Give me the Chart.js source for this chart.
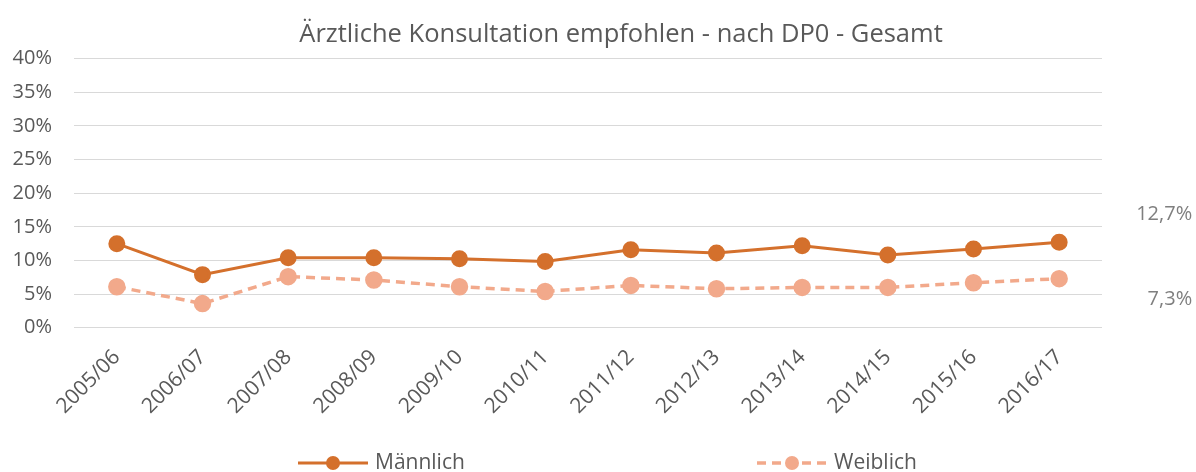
<!DOCTYPE html>
<html>
<head>
<meta charset="utf-8">
<script src="https://cdn.jsdelivr.net/npm/chart.js@4/dist/chart.umd.min.js"></script>
<style>
  html, body { margin: 0; padding: 0; background: #fff; }
  #wrap { width: 1196px; height: 472px; }
</style>
</head>
<body>
<div id="wrap"><canvas id="chart" width="1196" height="472"></canvas></div>
<script>
const labels = ['2005/06', '2006/07', '2007/08', '2008/09', '2009/10', '2010/11',
                '2011/12', '2012/13', '2013/14', '2014/15', '2015/16', '2016/17'];
const maennlich = [12.5, 7.9, 10.4, 10.4, 10.25, 9.85, 11.6, 11.1, 12.2, 10.8, 11.7, 12.7];
const weiblich = [6.1, 3.6, 7.6, 7.1, 6.1, 5.4, 6.3, 5.8, 6.0, 6.0, 6.7, 7.3];
const yTicks = [0, 5, 10, 15, 20, 25, 30, 35, 40];

const darkOrange = '#D4702C';
const lightOrange = '#F2A98B';
const textGrey = '#595959';
const fontFamily = "'Open Sans', sans-serif";

// label the last value of each series
const lastValueLabels = {
  id: 'lastValueLabels',
  afterDatasetsDraw(chart) {
    const ctx = chart.ctx;
    ctx.save();
    ctx.font = '20px ' + fontFamily;
    ctx.fillStyle = '#7F7F7F';
    ctx.textAlign = 'right';
    ctx.textBaseline = 'middle';
    const offsets = [-28, 21];
    chart.data.datasets.forEach((ds, i) => {
      const pts = chart.getDatasetMeta(i).data;
      const p = pts[pts.length - 1];
      const v = ds.data[ds.data.length - 1];
      ctx.fillText(v.toFixed(1).replace('.', ',') + '%', p.x + 133, p.y + offsets[i]);
    });
    ctx.restore();
  }
};

// the original title sits a little right of the canvas centre
const shiftTitle = {
  id: 'shiftTitle',
  afterLayout(chart) {
    if (chart.titleBlock) chart.titleBlock.left += 46;
  }
};

// legend spread across the bottom like the original
const bottomLegend = {
  id: 'bottomLegend',
  afterDraw(chart) {
    const ctx = chart.ctx;
    const y = 463;
    const starts = [298, 757];
    ctx.save();
    ctx.font = '21px ' + fontFamily;
    ctx.textBaseline = 'middle';
    chart.data.datasets.forEach((ds, i) => {
      const x = starts[i];
      ctx.strokeStyle = ds.borderColor;
      ctx.lineWidth = ds.borderWidth;
      ctx.setLineDash(ds.borderDash || []);
      ctx.beginPath();
      ctx.moveTo(x, y);
      ctx.lineTo(x + 70, y);
      ctx.stroke();
      ctx.setLineDash([]);
      ctx.fillStyle = ds.pointBackgroundColor;
      ctx.beginPath();
      ctx.arc(x + 35, y, 7, 0, Math.PI * 2);
      ctx.fill();
      ctx.fillStyle = textGrey;
      ctx.textAlign = 'left';
      ctx.fillText(ds.label, x + 77, y);
    });
    ctx.restore();
  }
};

const ctx = document.getElementById('chart').getContext('2d');
new Chart(ctx, {
  type: 'line',
  data: {
    labels: labels,
    datasets: [{
      label: 'Männlich',
      data: maennlich,
      borderColor: darkOrange,
      backgroundColor: darkOrange,
      pointBackgroundColor: darkOrange,
      pointBorderColor: darkOrange,
      borderWidth: 3,
      pointRadius: 7,
      pointHoverRadius: 7,
      tension: 0
    }, {
      label: 'Weiblich',
      data: weiblich,
      borderColor: lightOrange,
      backgroundColor: lightOrange,
      pointBackgroundColor: lightOrange,
      pointBorderColor: lightOrange,
      borderWidth: 3.5,
      borderDash: [9, 6],
      pointRadius: 7,
      pointHoverRadius: 7,
      tension: 0
    }]
  },
  options: {
    responsive: false,
    animation: false,
    layout: { padding: { left: 0, right: 0, bottom: 36 } },
    plugins: {
      legend: { display: false },
      tooltip: { enabled: false },
      title: {
        display: true,
        text: 'Ärztliche Konsultation empfohlen - nach DP0 - Gesamt',
        color: textGrey,
        font: { family: fontFamily, size: 25.5, weight: 'normal' },
        padding: { top: 19, bottom: 9 }
      }
    },
    scales: {
      y: {
        min: 0,
        max: 40,
        afterBuildTicks: axis => { axis.ticks = yTicks.map(v => ({ value: v })); },
        afterFit: scale => { scale.width = 74; },
        ticks: {
          color: textGrey,
          font: { family: fontFamily, size: 20 },
          padding: 22,
          callback: v => v + '%'
        },
        grid: { color: '#D9D9D9', lineWidth: 1, drawTicks: false },
        border: { display: false }
      },
      x: {
        offset: true,
        afterFit: scale => { scale.paddingLeft = 0; scale.paddingRight = 94; },
        ticks: {
          color: textGrey,
          font: { family: fontFamily, size: 21 },
          minRotation: 45,
          maxRotation: 45,
          padding: 17
        },
        grid: { display: false, drawTicks: false },
        border: { display: false }
      }
    }
  },
  plugins: [lastValueLabels, shiftTitle, bottomLegend]
});
</script>
</body>
</html>
